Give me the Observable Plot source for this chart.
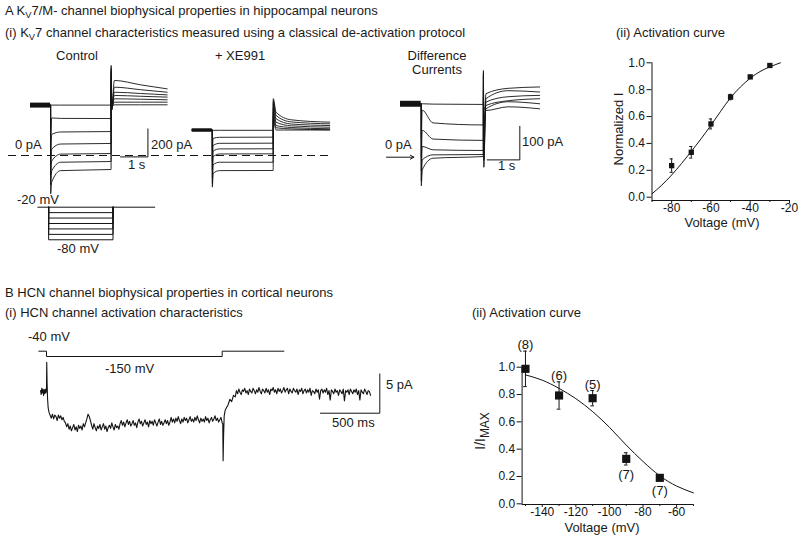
<!DOCTYPE html>
<html><head><meta charset="utf-8">
<script src="https://cdn.jsdelivr.net/npm/d3@7"></script>
<script src="https://cdn.jsdelivr.net/npm/@observablehq/plot@0.6"></script>
<style>
html,body{margin:0;padding:0;background:#fff;}
#fig{position:relative;width:800px;height:543px;overflow:hidden;font-family:"Liberation Sans",Arial,Helvetica,sans-serif;color:#1a1a1a;background:#fff;}
.t{position:absolute;white-space:nowrap;line-height:1;}
.t sub{font-size:0.72em;vertical-align:-0.3em;line-height:0;}
.t sub.big{font-size:0.85em;vertical-align:-0.35em;}
</style></head><body><div id="fig"></div>
<script>
// ---------------- DATA ----------------
// A(i) Control sweeps (pA); one value per sweep at each key time (s)
const ctlTimes     = [0, 0.73, 0.733, 0.77, 1.1, 2.93, 2.933, 2.945, 3.05, 4.0, 4.97];
const ctlHold      = 360;
const ctlOnPeak    = [360, 150, 40, -60, -140, -210, -274];
const ctlStart     = [360, 268, 150, 45, -40, -110, -190];
const ctlMid       = [360, 265, 168, 82, 10, -48, -108];
const ctlEnd       = [360, 264, 171, 86, 14, -43, -100];
const ctlOffPeak   = [420, 480, 520, 560, 600, 620, 643];
const ctlOffDip    = [345, 340, 335, 330, 325, 322, 321];
const ctlTailStart = [362, 381, 405, 429, 452, 488, 536];
const ctlTailMid   = [362, 381, 402, 423, 443, 470, 505];
const ctlTailEnd   = [362, 381, 398, 417, 433, 452, 476];

// A(i) + XE991 sweeps (pA)
const xeTimes     = [0, 0.73, 0.733, 0.76, 1.0, 2.945, 2.948, 3.05, 3.6, 5.0];
const xeHold      = 182;
const xeOnPeak    = [182, 40, -40, -100, -160, -200, -226];
const xeStart     = [180, 122, 72, 32, -8, -66, -128];
const xeMid       = [180, 130, 87, 47, 11, -48, -108];
const xeEnd       = [180, 131, 88, 48, 12, -48, -107];
const xeOffPeak   = [250, 280, 310, 340, 370, 390, 406];
const xeTailStart = [182, 198, 214, 238, 262, 286, 309];
const xeTailMid   = [182, 190, 200, 212, 225, 240, 255];
const xeTailEnd   = [182, 184, 191, 202, 214, 226, 238];

// A(i) Difference currents (pA)
const diffTimes     = [0, 0.635, 0.638, 0.665, 1.0, 2.54, 2.543, 2.556, 2.62, 3.3, 4.27];
const diffHold      = 159;
const diffOnPeak    = [159, 60, 0, -40, -70, -85];
const diffStart     = [159, 140, 80, 32, -8, -38];
const diffMid       = [158, 102, 54, 22, 7, -3];
const diffEnd       = [157, 96, 50, 20, 8, 2];
const diffOffPeak   = [180, 200, 220, 240, 250, 258];
const diffOffDip    = [150, 100, 60, 20, -10, -30];
const diffTailStart = [139, 144, 154, 164, 174, 189];
const diffTailMid   = [150, 165, 168, 180, 198, 205];
const diffTailEnd   = [144, 159, 174, 184, 194, 209];

// A(i) voltage protocol (mV, s)
const protoTimes  = [0.27, 0.66, 3.0, 4.55];
const protoHold   = -20;
const protoLevels = [-30, -40, -50, -60, -70, -80];

// A(ii) activation curve
const actV   = [-80, -70, -60, -50, -40, -30];
const actI   = [0.235, 0.334, 0.545, 0.745, 0.895, 0.98];
const actErr = [0.05, 0.043, 0.037, 0.02, 0.012, 0.01];
const actFitV = [-90, -85, -80, -75, -70, -65, -60, -55, -50, -45, -40, -35, -30, -24.6];
const actFitI = [0.025, 0.09, 0.165, 0.25, 0.34, 0.435, 0.535, 0.64, 0.74, 0.82, 0.885, 0.935, 0.97, 1.0];
const actTicksX = [-80, -60, -40, -20];
const actMinorX = [-90, -70, -50, -30];
const fracTicks = [0, 0.2, 0.4, 0.6, 0.8, 1.0];

// B(i) HCN protocol (mV, ms)
const hcnProtoTimes = [-65, 0, 1480, 2000];
const hcnProtoHold = -40;
const hcnProtoStep = -150;

// B(i) HCN current trace (pA)
// pre-step and onset [ms, pA]
const hcnPre = [
 [-50,0.2],[-45,-0.3],[-40,0.5],[-35,-0.1],[-30,0.4],[-25,-0.4],[-20,0.3],[-15,-0.2],[-10,0.4],[-5,-0.1],
 [0,0.3],[2,3.8],[5,1.2],[9,-0.8],[14,-2.0],[22,-2.6],[30,-2.9]
];
// during the -150 mV step, sampled every 10 ms from 40 ms
const hcnStepT0 = 40, hcnStepDt = 10;
const hcnStep = [
 -3.3,-2.8,-3.4,-2.9,-3.1,-3.6,-2.9,-3.3,-3.0,-3.5,-3.2,-3.7,
 -3.9,-4.4,-4.0,-4.7,-4.3,-4.9,-4.5,-4.1,-4.8,-4.4,-5.0,-4.2,-4.6,-4.3,-4.8,-4.0,-4.4,-3.9,
 -3.4,-2.8,-3.1,-3.6,
 -4.2,-4.7,-4.0,-4.5,-4.9,-4.3,-4.6,-4.1,-4.8,-4.4,-4.0,-4.7,-4.3,-5.0,-4.5,-4.2,-4.6,-3.9,-4.4,-4.8,
 -4.1,-4.5,-4.3,-4.7,-4.0,
 -3.6,-4.2,-3.8,-4.4,-3.9,-3.5,-4.1,-3.7,-4.3,-4.0,-3.6,-4.2,-3.9,-4.5,-3.8,-3.4,-4.0,-3.7,-4.3,-3.9,
 -3.5,-4.1,-3.8,-4.4,-3.6,-4.0,-3.7,-4.2,-3.5,-3.9,-4.3,-3.8,-3.4,-4.1,-3.7,-4.2,-3.9,-3.5,-4.0,-3.6,
 -4.2,-3.8,
 -3.2,-3.8,-3.4,-3.9,-3.3,-3.7,-3.1,-3.6,-4.0,-3.4,-3.8,-3.2,-3.6,-3.3,-3.9,-3.5,-3.1,-3.7,-3.4,-3.8,
 -3.2,-3.6,-3.0,-3.5,-3.9,-3.3,-3.7,-3.4,-3.8,-3.1,-3.6,-3.3,-3.9,-3.5,-3.2,-3.7,-3.4,-3.0,-3.6,-3.3,
 -3.8,-3.5,-3.2,-3.9
];
// step off [ms, pA]
const hcnOff = [
 [1485,-4.0],[1488,-8.7],[1492,-5.5],[1497,-3.0],[1505,-2.3],[1515,-2.0],[1530,-1.6],[1545,-0.9],
 [1560,-1.2],[1575,-0.4],[1590,-0.6]
];
// back at -40 mV, sampled every 10 ms from 1600 ms
const hcnPostT0 = 1600, hcnPostDt = 10;
const hcnPost = [
 0.2,-0.2,0.4,0.0,-0.3,0.3,0.1,0.5,-0.1,0.2,
 -0.3,0.4,0.1,-0.1,0.5,0.2,-0.2,0.3,0.0,0.6,
 0.1,-0.2,0.4,0.2,-0.1,0.5,0.0,0.3,-0.3,0.4,
 0.2,0.6,0.0,0.3,-0.2,0.5,0.1,0.4,-0.1,0.2,
 0.6,0.0,0.3,0.5,-0.2,0.4,0.1,-0.1,0.5,0.2,
 0.0,0.4,-0.3,0.3,0.1,0.5,-0.2,0.2,0.4,-0.1,
 0.3,0.0,0.5,-0.4,0.2,0.1,-0.2,0.4,0.0,0.3,
 -0.9,0.2,0.4,-0.1,0.3,0.0,0.5,-0.3,0.2,-1.0,
 0.3,0.1,-0.2,0.4,0.0,0.2,-0.4,0.3,0.1,-0.2,
 0.4,-1.1,0.2,0.0,0.3,-0.3,0.4,0.1,-0.2,0.3,
 0.0,0.4,-0.3,0.2,-1.0,0.3,0.0,-0.2,0.4,0.1,
 -0.3,0.2,0.1,-0.4
];

// B(ii) activation curve
const hcnV   = [-150, -130, -110, -90, -70];
const hcnI   = [0.988, 0.793, 0.773, 0.329, 0.19];
const hcnErr = [0.13, 0.10, 0.056, 0.045, 0.02];
const hcnN   = ["(8)", "(6)", "(5)", "(7)", "(7)"];
const hcnNSide = ["above", "above", "above", "below", "below"];
const hcnFitV = [-150, -140, -130, -120, -110, -100, -90, -80, -70, -60, -50];
const hcnFitI = [0.944, 0.905, 0.845, 0.77, 0.675, 0.56, 0.43, 0.31, 0.205, 0.13, 0.08];
const hcnTicksX = [-140, -120, -100, -80, -60];
const hcnMinorX = [-150, -130, -110, -90, -70, -50];

// ---------------- DRAWING ----------------
const ink = "#141414";
const fig = document.getElementById("fig");
const FONT = '"Liberation Sans", Arial, Helvetica, sans-serif';
const axisStyle = `background: transparent; overflow: visible; font-family: ${FONT}; font-size: 12px; color: ${ink};`;

function put(el, left, top) {
  el.style.position = "absolute";
  el.style.left = left + "px";
  el.style.top = top + "px";
  fig.appendChild(el);
}
function label(html, x, base, size = 13, anchor = "start") {
  const d = document.createElement("div");
  d.className = "t";
  d.innerHTML = html;
  d.style.fontSize = size + "px";
  d.style.left = x + "px";
  d.style.top = (base - 0.8465 * size) + "px";
  if (anchor === "middle") d.style.transform = "translateX(-50%)";
  fig.appendChild(d);
}
function vlabel(html, cx, cy, size = 13) {
  const d = document.createElement("div");
  d.className = "t";
  d.innerHTML = html;
  d.style.fontSize = size + "px";
  d.style.left = cx + "px";
  d.style.top = cy + "px";
  d.style.transform = "translate(-50%,-50%) rotate(-90deg)";
  fig.appendChild(d);
}
function sweeps(times, rows, n, offset = 0) {
  const out = [];
  for (let s = 0; s < n; s++)
    times.forEach((t, k) => {
      const r = rows[k];
      out.push({sweep: s, t: t + offset, v: Array.isArray(r) ? r[s] : r});
    });
  return out;
}
// page x = x0 + kx * value ; page y = y0 - ky * value
function tracePanel(L, T, W, H, x0, kx, y0, ky, marks) {
  const svg = Plot.plot({
    width: W, height: H, margin: 0,
    x: {domain: [(L - x0) / kx, (L + W - x0) / kx], axis: null},
    y: {domain: [(y0 - (T + H)) / ky, (y0 - T) / ky], axis: null},
    style: "background: transparent; overflow: visible;",
    marks
  });
  put(svg, L, T);
}
const lineOpts = {x: "t", y: "v", z: "sweep", stroke: ink, strokeWidth: 0.9, curve: "monotone-x"};

// ---- A(i) control + XE991 ----
const ctlData = sweeps(ctlTimes, [ctlHold, ctlHold, ctlOnPeak, ctlStart, ctlMid, ctlEnd, ctlOffPeak, ctlOffDip, ctlTailStart, ctlTailMid, ctlTailEnd], ctlStart.length);
const xeOffset = 5.88;
const xeData = sweeps(xeTimes, [xeHold, xeHold, xeOnPeak, xeStart, xeMid, xeEnd, xeOffPeak, xeTailStart, xeTailMid, xeTailEnd], xeStart.length, xeOffset);
tracePanel(0, 55, 345, 150, 30, 27.5, 155, 0.14, [
  Plot.ruleY([0], {x1: -0.8, x2: 10.9, stroke: ink, strokeWidth: 1, strokeDasharray: "8,5"}),
  Plot.ruleY([ctlHold], {x1: ctlTimes[0], x2: ctlTimes[1], stroke: ink, strokeWidth: 5}),
  Plot.ruleY([xeHold], {x1: xeTimes[0] + xeOffset, x2: xeTimes[1] + xeOffset, stroke: ink, strokeWidth: 3.5}),
  Plot.line(ctlData, lineOpts),
  Plot.line(xeData, lineOpts),
  Plot.line([{t: 3.27, v: -10}, {t: 4.27, v: -10}, {t: 4.27, v: 190}], {x: "t", y: "v", stroke: ink, strokeWidth: 1})
]);

// ---- A(i) difference currents ----
const diffData = sweeps(diffTimes, [diffHold, diffHold, diffOnPeak, diffStart, diffMid, diffEnd, diffOffPeak, diffOffDip, diffTailStart, diffTailMid, diffTailEnd], diffStart.length);
tracePanel(375, 55, 180, 140, 400, 32.6, 156.7, 0.336, [
  Plot.ruleY([diffHold], {x1: diffTimes[0], x2: diffTimes[1], stroke: ink, strokeWidth: 6}),
  Plot.line(diffData, lineOpts),
  Plot.arrow([0], {x1: -0.43, y1: 0, x2: 0.41, y2: 0, stroke: ink, strokeWidth: 1, headLength: 6}),
  Plot.line([{t: 2.66, v: -8}, {t: 3.66, v: -8}, {t: 3.66, v: 92}], {x: "t", y: "v", stroke: ink, strokeWidth: 1})
]);

// ---- A(i) protocol ----
const protoStepData = sweeps([protoTimes[1], protoTimes[1], protoTimes[2], protoTimes[2]],
  [protoHold, protoLevels, protoLevels, protoHold], protoLevels.length);
tracePanel(0, 198, 170, 48, 30, 27.5, 195.83, 0.5433, [
  Plot.ruleY([protoHold], {x1: protoTimes[0], x2: protoTimes[3], stroke: ink, strokeWidth: 1}),
  Plot.line(protoStepData, {x: "t", y: "v", z: "sweep", stroke: ink, strokeWidth: 1})
]);

// ---- B(i) protocol ----
const hcnProto = [
  {t: hcnProtoTimes[0], v: hcnProtoHold}, {t: hcnProtoTimes[1], v: hcnProtoHold},
  {t: hcnProtoTimes[1], v: hcnProtoStep}, {t: hcnProtoTimes[2], v: hcnProtoStep},
  {t: hcnProtoTimes[2], v: hcnProtoHold}, {t: hcnProtoTimes[3], v: hcnProtoHold}
];
tracePanel(30, 343, 260, 18, 46, 0.1187, 348.77, 0.04818, [
  Plot.line(hcnProto, {x: "t", y: "v", stroke: ink, strokeWidth: 1})
]);

// ---- B(i) trace ----
const hcnTrace = [
  ...hcnPre,
  ...hcnStep.map((v, i) => [hcnStepT0 + i * hcnStepDt, v]),
  ...hcnOff,
  ...hcnPost.map((v, i) => [hcnPostT0 + i * hcnPostDt, v])
];
tracePanel(30, 355, 360, 110, 46, 0.1187, 391.7, 7.87, [
  Plot.line(hcnTrace, {x: d => d[0], y: d => d[1], stroke: ink, strokeWidth: 1.1, strokeLinejoin: "round"}),
  Plot.line([{t: 2308, v: -2.67}, {t: 2808, v: -2.67}, {t: 2808, v: 2.33}], {x: "t", y: "v", stroke: ink, strokeWidth: 1})
]);

// ---- A(ii) activation curve ----
{
  const yb = -0.0246;
  const pts = actV.map((v, i) => ({v, y: actI[i], lo: actI[i] - actErr[i], hi: actI[i] + actErr[i]}));
  const fit = actFitV.map((v, i) => ({v, y: actFitI[i]}));
  const svg = Plot.plot({
    width: 210, height: 210, marginLeft: 61.5, marginRight: 11, marginTop: 22.3, marginBottom: 50,
    x: {domain: [-90, -20], label: null},
    y: {domain: [yb, 1], label: null},
    style: axisStyle,
    marks: [
      Plot.ruleX([-90], {y1: yb, y2: 1, stroke: ink}),
      Plot.ruleY([yb], {x1: -90, x2: -20, stroke: ink}),
      Plot.axisX({ticks: actTicksX, tickSize: 3, tickPadding: 0, tickFormat: d => String(d), label: null, fontSize: 12}),
      Plot.axisX({ticks: actMinorX, tickSize: 2, tickFormat: () => "", label: null}),
      Plot.axisY({ticks: fracTicks, tickSize: 5, tickPadding: 2, tickFormat: d => d.toFixed(1), label: null, fontSize: 12}),
      Plot.line(fit, {x: "v", y: "y", curve: "natural", stroke: ink, strokeWidth: 1}),
      Plot.ruleX(pts, {x: "v", y1: "lo", y2: "hi", stroke: ink}),
      Plot.ruleY(pts, {y: "hi", x1: d => d.v - 0.8, x2: d => d.v + 0.8, stroke: ink}),
      Plot.ruleY(pts, {y: "lo", x1: d => d.v - 0.8, x2: d => d.v + 0.8, stroke: ink}),
      Plot.dot(pts, {x: "v", y: "y", symbol: "square", r: 3, fill: ink, stroke: "none"})
    ]
  });
  put(svg, 590, 40);
}

// ---- B(ii) activation curve ----
{
  const yb = -0.005;
  const pts = hcnV.map((v, i) => ({v, y: hcnI[i], lo: hcnI[i] - hcnErr[i], hi: hcnI[i] + hcnErr[i], n: hcnN[i], side: hcnNSide[i]}));
  const fit = hcnFitV.map((v, i) => ({v, y: hcnFitI[i]}));
  const svg = Plot.plot({
    width: 240, height: 210, marginLeft: 51.6, marginRight: 17.1, marginTop: 36.7, marginBottom: 36,
    x: {domain: [-152, -50], label: null},
    y: {domain: [yb, 1], label: null},
    style: axisStyle,
    marks: [
      Plot.ruleX([-152], {y1: yb, y2: 1, stroke: ink}),
      Plot.ruleY([yb], {x1: -152, x2: -50, stroke: ink}),
      Plot.axisX({ticks: hcnTicksX, tickSize: 3, tickPadding: 0, tickFormat: d => String(d), label: null, fontSize: 12}),
      Plot.axisX({ticks: hcnMinorX, tickSize: 2, tickFormat: () => "", label: null}),
      Plot.axisY({ticks: fracTicks, tickSize: 5, tickPadding: 2, tickFormat: d => d.toFixed(1), label: null, fontSize: 12}),
      Plot.line(fit, {x: "v", y: "y", curve: "natural", stroke: ink, strokeWidth: 1}),
      Plot.ruleX(pts, {x: "v", y1: "lo", y2: "hi", stroke: ink}),
      Plot.ruleY(pts, {y: "hi", x1: d => d.v - 1.1, x2: d => d.v + 1.1, stroke: ink}),
      Plot.ruleY(pts, {y: "lo", x1: d => d.v - 1.1, x2: d => d.v + 1.1, stroke: ink}),
      Plot.dot(pts, {x: "v", y: "y", symbol: "square", r: 4.6, fill: ink, stroke: "none"}),
      Plot.text(pts.filter(d => d.side === "above"), {x: "v", y: "hi", text: "n", dy: -2, lineAnchor: "bottom", fontSize: 13, fill: ink}),
      Plot.text(pts.filter(d => d.side === "below"), {x: "v", y: "lo", text: "n", dy: 5, lineAnchor: "top", fontSize: 13, fill: ink})
    ]
  });
  put(svg, 470, 330);
}

// ---------------- TEXT ----------------
label("A K<sub>V</sub>7/M- channel biophysical properties in hippocampal neurons", 5, 15);
label("(i) K<sub>V</sub>7 channel characteristics measured using a classical de-activation protocol", 5, 37);
label("(ii) Activation curve", 616, 37);
label("Control", 77, 60, 13, "middle");
label("+ XE991", 240, 60, 13, "middle");
label("Difference", 437, 60, 13, "middle");
label("Currents", 437, 74, 13, "middle");
label("0 pA", 15, 149.5);
label("200 pA", 151, 149.5);
label("1 s", 128, 169);
label("-20 mV", 17, 204);
label("-80 mV", 57, 253);
label("0 pA", 385, 149.5);
label("100 pA", 522, 146.5);
label("1 s", 498, 170.5);
vlabel("Normalized I", 618, 129);
label("Voltage (mV)", 722, 227, 13, "middle");

label("B HCN channel biophysical properties in cortical neurons", 5, 297);
label("(i) HCN channel activation characteristics", 5, 317);
label("(ii) Activation curve", 472, 317);
label("-40 mV", 28, 341);
label("-150 mV", 105, 373);
label("5 pA", 386, 389);
label("500 ms", 332, 427);
vlabel('I/I<sub class="big">MAX</sub>', 480, 431, 14);
label("Voltage (mV)", 602, 532, 13, "middle");
</script></body></html>
